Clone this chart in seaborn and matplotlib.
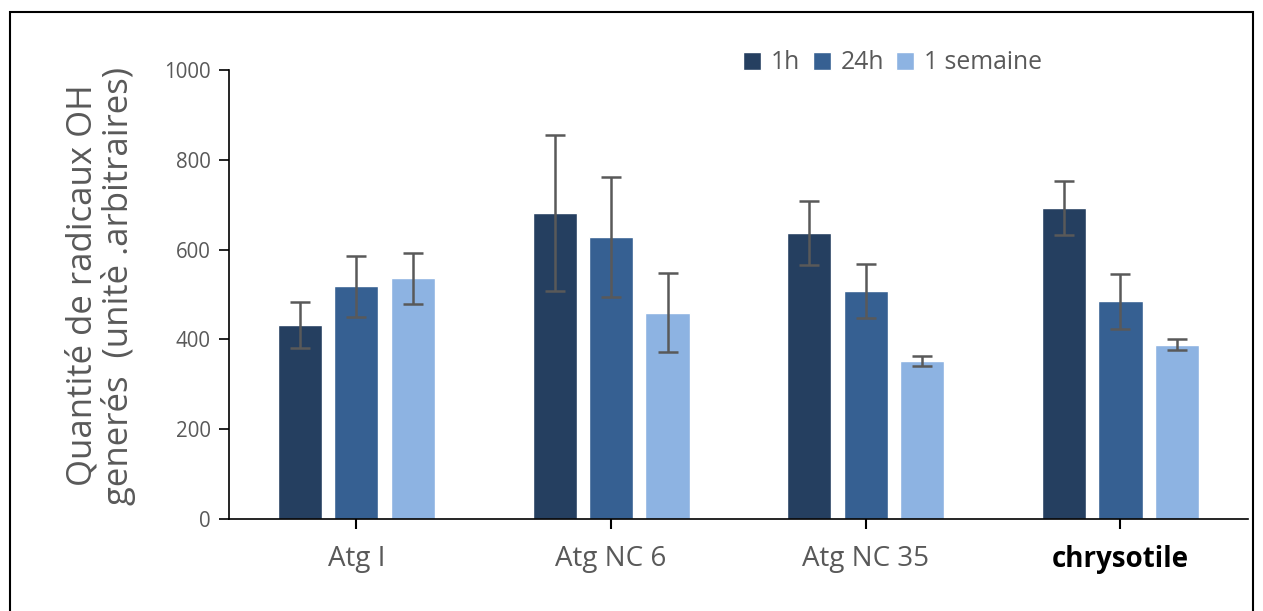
import matplotlib
matplotlib.use("Agg")
import matplotlib.pyplot as plt
import seaborn as sns
import pandas as pd
import numpy as np
from matplotlib.patches import Rectangle

categories = ["Atg I", "Atg NC 6", "Atg NC 35", "chrysotile"]
series = ["1h", "24h", "1 semaine"]
values_1h = [432, 681, 637, 692]
values_24h = [518, 628, 507, 485]
values_1sem = [536, 459, 352, 388]
err_1h = [52, 174, 72, 60]
err_24h = [68, 133, 60, 61]
err_1sem = [57, 88, 12, 12]
colors = ["#253F60", "#366092", "#8DB3E2"]
yticks = [0, 200, 400, 600, 800, 1000]

rows = []
for s, vals, errs in zip(series, [values_1h, values_24h, values_1sem], [err_1h, err_24h, err_1sem]):
    for c, v, e in zip(categories, vals, errs):
        rows.append({"cat": c, "serie": s, "val": v, "err": e})
df = pd.DataFrame(rows)

sns.set_theme(style="white")
plt.rcParams["font.family"] = ["Open Sans", "DejaVu Sans"]

fig = plt.figure(figsize=(12.63, 6.11), dpi=100)
ax = fig.add_axes([0.1813, 0.1506, 0.8067, 0.7348])

sns.barplot(data=df, x="cat", y="val", hue="serie", order=categories, hue_order=series,
            palette=colors, width=0.665, gap=0.22, errorbar=None, ax=ax,
            saturation=1, legend=False)

# error bars from patch positions
for s_i, s in enumerate(series):
    cont = ax.containers[s_i]
    sub = df[df.serie == s].set_index("cat").loc[categories]
    xs = [p.get_x() + p.get_width() / 2 for p in cont.patches]
    ax.errorbar(xs, sub["val"].values, yerr=sub["err"].values, fmt="none",
                ecolor="#595959", elinewidth=1.8, capsize=7, capthick=1.8, zorder=5)

ax.set_xlim(-0.5, 3.5)
ax.set_ylim(0, 1000)
ax.set_yticks(yticks)
ax.set_yticklabels([str(t) for t in yticks], fontsize=14.8, color="#595959")
ax.set_xlabel("")
ax.set_ylabel("Quantité de radicaux OH\ngenerés  (unitè .arbitraires)", fontsize=25,
              color="#595959", linespacing=1.05)
ax.yaxis.set_label_coords(-0.091, 0.52)
ax.set_xticks(range(len(categories)))
ax.set_xticklabels(categories, fontsize=20, color="#595959")
lbls = ax.get_xticklabels()
lbls[-1].set_fontweight("bold")
lbls[-1].set_color("black")

for sp in ["top", "right"]:
    ax.spines[sp].set_visible(False)
for sp in ["left", "bottom"]:
    ax.spines[sp].set_color("black")
    ax.spines[sp].set_linewidth(1.2)
ax.tick_params(axis="y", which="both", left=True, length=7, width=1.2, color="black", pad=6)
ax.tick_params(axis="x", which="both", bottom=True, length=7, width=1.5, color="black", pad=12)
ax.grid(False)

handles = [Rectangle((0, 0), 1, 1, facecolor=c) for c in colors]
leg = fig.legend(handles, series, loc="center left", bbox_to_anchor=(0.571, 0.897), ncol=3,
                 frameon=False, fontsize=17.8, handlelength=0.72, handleheight=0.72,
                 handletextpad=0.4, columnspacing=0.5)
for t in leg.get_texts():
    t.set_color("#595959")

fig.patches.append(Rectangle((0.008, -0.02), 0.984, 1.0, transform=fig.transFigure,
                             fill=False, edgecolor="black", linewidth=1.5))

fig.savefig("out.png", dpi=100)
